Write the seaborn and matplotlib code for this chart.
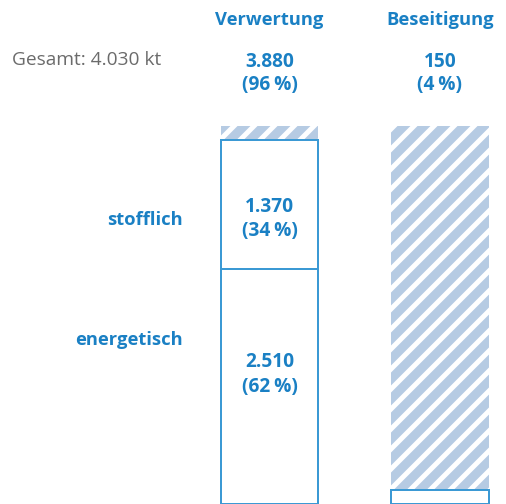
import numpy as np
import pandas as pd
import seaborn as sns
import matplotlib.pyplot as plt

categories = ["Verwertung", "Beseitigung"]
totals = [3880, 150]
total_label = "Gesamt: 4.030 kt"
sub_labels = ["stofflich", "energetisch"]
sub_values = [1370, 2510]
cat_value_labels = ["3.880", "150"]
cat_pct_labels = ["(96\u2009%)", "(4\u2009%)"]
sub_value_labels = ["1.370", "2.510"]
sub_pct_labels = ["(34\u2009%)", "(62\u2009%)"]

grand_total = sum(totals)

# segments of the two bars, stacked from the top (y axis is inverted)
segments = pd.DataFrame({
    "cat": ["Verwertung", "Verwertung", "Verwertung", "Beseitigung", "Beseitigung"],
    "bottom": [0, totals[1], totals[1] + sub_values[0], 0, totals[0]],
    "value": [totals[1], sub_values[0], sub_values[1], totals[0], totals[1]],
    "hatched": [True, False, False, True, False],
})

BLUE = "#1a80c4"
LINE = "#3b99d4"
HATCH = "#aecbeb"
GREY = "#6b6b6b"

sns.set_style("white")
plt.rcParams["font.family"] = ["Open Sans", "DejaVu Sans"]
plt.rcParams["hatch.linewidth"] = 3.0

W, H = 507, 504
dpi = 120
fig = plt.figure(figsize=(W / dpi, H / dpi), dpi=dpi)

# axes placed in pixels: bars at x ~270 and ~440, top at y=126
spacing = 170.5
x0 = 269.5 - 0.5 * spacing
ax = fig.add_axes([x0 / W, 0, (W - x0) / W, (H - 126) / H])

for _, row in segments.iterrows():
    if row["hatched"]:
        kw = dict(color=HATCH, edgecolor="white", linewidth=0, hatch="//")
    else:
        kw = dict(color="white", edgecolor=LINE, linewidth=1.2)
    sns.barplot(x=[row["cat"]], y=[row["value"]], order=categories,
                bottom=row["bottom"], width=0.57, ax=ax, **kw)

ax.set_xlim(-0.5, -0.5 + (W - x0) / spacing)
ax.set_ylim(grand_total, 0)
ax.axis("off")


def px(x, y):
    return x / W, 1 - y / H


text_kw = dict(color=BLUE, fontsize=11, fontweight="bold", ha="center", va="center")
num_kw = dict(text_kw, fontsize=11.5)
cx = [269.5, 440]
for i, cat in enumerate(categories):
    fig.text(*px(cx[i], 20), cat, **text_kw)
    fig.text(*px(cx[i], 62), cat_value_labels[i], **num_kw)
    fig.text(*px(cx[i], 85), cat_pct_labels[i], **num_kw)

fig.text(*px(12, 60), total_label, color=GREY, fontsize=11.5, ha="left", va="center")

label_y = [220, 340]
val_y = [(207, 231), (362, 387)]
for i, lab in enumerate(sub_labels):
    fig.text(*px(183, label_y[i]), lab, color=BLUE, fontsize=11, fontweight="bold",
             ha="right", va="center")
    fig.text(*px(cx[0], val_y[i][0]), sub_value_labels[i], **num_kw)
    fig.text(*px(cx[0], val_y[i][1]), sub_pct_labels[i], **num_kw)

fig.savefig("out.png", dpi=dpi)
